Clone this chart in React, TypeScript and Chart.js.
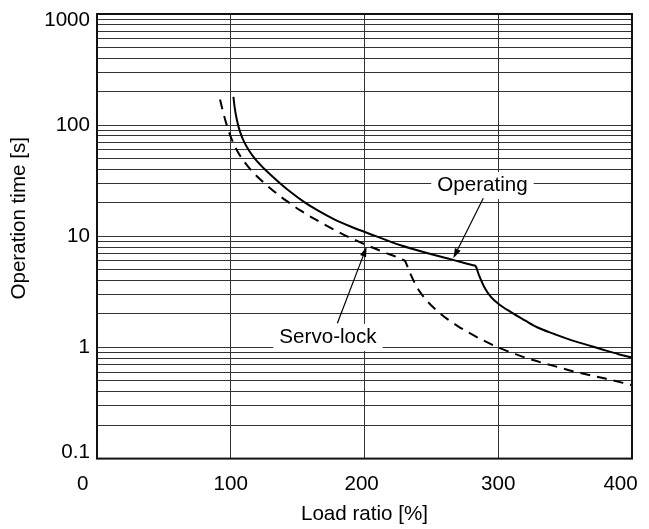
import React, { useEffect, useRef } from 'react';
import { Chart, registerables } from 'chart.js';

Chart.register(...registerables);

// ---- data ----
const X_TICKS = [0, 100, 200, 300, 400];
const X_TICK_LABELS = ['0', '100', '200', '300', '400'];
const Y_TICKS = [0.1, 1, 10, 100, 1000];
const Y_TICK_LABELS = ['0.1', '1', '10', '100', '1000'];
const Y_MINOR_STEPS = [2, 3, 4, 5, 6, 7, 8, 9];

const OPERATING_X = [102, 103, 104.5, 106, 108, 110, 114, 118, 122, 126, 131, 137, 145, 155, 165, 177, 190, 207, 227, 250, 265, 281, 283, 285.5, 289.5, 294.5, 300.5, 309.5, 320, 329, 342, 354, 367, 379, 390, 400];
const OPERATING_Y = [180, 142, 113, 95, 80.5, 70.8, 58.3, 50.1, 44.2, 39.5, 34.7, 29.9, 24.9, 20.3, 17.1, 14.3, 12.2, 10.2, 8.3, 6.9, 6.2, 5.5, 5.4, 4.5, 3.5, 2.85, 2.45, 2.08, 1.75, 1.52, 1.32, 1.17, 1.05, 0.95, 0.87, 0.81];

const SERVO_X = [92, 94, 97, 101, 105, 109, 116, 126, 136, 142, 152, 165, 177, 187, 200, 215, 228, 230.5, 233, 236, 240, 247, 254, 262, 270, 277, 288, 300, 313, 326, 340, 355, 380, 400];
const SERVO_Y = [170, 135, 100, 73.3, 58.2, 48.9, 38.4, 29.4, 23.4, 20.7, 17.1, 13.8, 11.5, 10.0, 8.5, 7.16, 6.2, 5.95, 5.0, 4.15, 3.35, 2.6, 2.15, 1.8, 1.55, 1.38, 1.17, 1.0, 0.87, 0.77, 0.69, 0.615, 0.525, 0.458];

const ANNOTATION_TEXT = ['Operating', 'Servo-lock'];
const ANNOTATION_X = [288.2, 172.7];
const ANNOTATION_Y = [28.6, 1.229];
const ARROW_FROM_X = [288.8, 179.7];
const ARROW_FROM_Y = [22.0, 1.65];
const ARROW_TO_X = [266.4, 201.6];
const ARROW_TO_Y = [6.34, 8.05];

const X_TITLE = 'Load ratio [%]';
const Y_TITLE = 'Operation time [s]';

// ---- style ----
const FONT = '"Liberation Sans", Arial, Helvetica, sans-serif';
const FONT_SIZE = 20.6;
const GRID_COLOR = '#333333';
const X_LABEL_PAD = [5, 0, 1, 0, 4];

const Y_GRID: number[] = [];
Y_TICKS.forEach((d, i) => {
  Y_GRID.push(d);
  if (i < Y_TICKS.length - 1) {
    Y_MINOR_STEPS.forEach((m) => Y_GRID.push(Number((m * d).toPrecision(3))));
  }
});

const framePlugin = {
  id: 'frame',
  afterDatasetsDraw(chart: any) {
    const { ctx, chartArea: a } = chart;
    ctx.save();
    ctx.strokeStyle = '#111';
    ctx.lineWidth = 2;
    ctx.strokeRect(a.left, a.top, a.right - a.left, a.bottom - a.top);
    ctx.restore();
  },
};

const annotationPlugin = {
  id: 'callouts',
  afterDatasetsDraw(chart: any) {
    const { ctx } = chart;
    const xs = chart.scales.x;
    const ys = chart.scales.y;
    ctx.save();
    ctx.font = `${FONT_SIZE}px ${FONT}`;
    ANNOTATION_TEXT.forEach((text, i) => {
      const cx = xs.getPixelForValue(ANNOTATION_X[i]);
      const cy = ys.getPixelForValue(ANNOTATION_Y[i]);
      const w = ctx.measureText(text).width + 12;
      const h = 27;
      ctx.fillStyle = '#fff';
      ctx.fillRect(cx - w / 2, cy - h / 2, w, h);
      ctx.fillStyle = '#000';
      ctx.textAlign = 'center';
      ctx.textBaseline = 'middle';
      ctx.fillText(text, cx, cy);

      const x1 = xs.getPixelForValue(ARROW_FROM_X[i]);
      const y1 = ys.getPixelForValue(ARROW_FROM_Y[i]);
      const x2 = xs.getPixelForValue(ARROW_TO_X[i]);
      const y2 = ys.getPixelForValue(ARROW_TO_Y[i]);
      const ang = Math.atan2(y2 - y1, x2 - x1);
      const len = 10;
      const half = 3.2;
      const bx = x2 - len * Math.cos(ang);
      const by = y2 - len * Math.sin(ang);
      ctx.strokeStyle = '#000';
      ctx.lineWidth = 1.2;
      ctx.beginPath();
      ctx.moveTo(x1, y1);
      ctx.lineTo(bx, by);
      ctx.stroke();
      ctx.beginPath();
      ctx.moveTo(x2, y2);
      ctx.lineTo(bx + half * Math.sin(ang), by - half * Math.cos(ang));
      ctx.lineTo(bx - half * Math.sin(ang), by + half * Math.cos(ang));
      ctx.closePath();
      ctx.fill();
    });
    ctx.restore();
  },
};

const yTitlePlugin = {
  id: 'yTitle',
  afterDraw(chart: any) {
    const { ctx, chartArea: a } = chart;
    ctx.save();
    ctx.translate(25, (a.top + a.bottom) / 2 - 18);
    ctx.rotate(-Math.PI / 2);
    ctx.font = `${FONT_SIZE}px ${FONT}`;
    ctx.fillStyle = '#000';
    ctx.textAlign = 'center';
    ctx.textBaseline = 'alphabetic';
    ctx.fillText(Y_TITLE, 0, 0);
    ctx.restore();
  },
};

export default function App() {
  const ref = useRef<HTMLCanvasElement>(null);

  useEffect(() => {
    const canvas = ref.current;
    if (!canvas) return;
    const chart = new Chart(canvas, {
      type: 'line',
      data: {
        datasets: [
          {
            label: 'Operating',
            data: OPERATING_X.map((x, i) => ({ x, y: OPERATING_Y[i] })),
            borderColor: '#000',
            borderWidth: 2,
            pointRadius: 0,
            fill: false,
            cubicInterpolationMode: 'monotone',
          },
          {
            label: 'Servo-lock',
            data: SERVO_X.map((x, i) => ({ x, y: SERVO_Y[i] })),
            borderColor: '#000',
            borderWidth: 2,
            borderDash: [10, 7],
            pointRadius: 0,
            fill: false,
            cubicInterpolationMode: 'monotone',
          },
        ],
      },
      options: {
        responsive: false,
        animation: false,
        events: [],
        layout: { padding: { left: 0, top: 14, right: 17, bottom: 0 } },
        plugins: { legend: { display: false }, tooltip: { enabled: false } },
        scales: {
          x: {
            type: 'linear',
            min: 0,
            max: 400,
            afterBuildTicks: (s: any) => {
              s.ticks = X_TICKS.map((v) => ({ value: v }));
            },
            afterFit: (s: any) => {
              s.height = 70.4;
              s.paddingLeft = 0;
              s.paddingRight = 0;
            },
            grid: { color: GRID_COLOR, lineWidth: 1, drawTicks: false },
            border: { display: false },
            ticks: {
              autoSkip: false,
              maxRotation: 0,
              padding: 13,
              color: '#000',
              font: { family: FONT, size: FONT_SIZE },
              callback: (value: any) => {
                const i = X_TICKS.indexOf(value);
                return i < 0 ? '' : X_TICK_LABELS[i] + ' '.repeat(X_LABEL_PAD[i]);
              },
            },
            title: {
              display: true,
              text: X_TITLE,
              color: '#000',
              font: { family: FONT, size: FONT_SIZE },
              padding: { top: 0, bottom: 2 },
            },
          },
          y: {
            type: 'logarithmic',
            min: 0.1,
            max: 1000,
            afterBuildTicks: (s: any) => {
              s.ticks = Y_GRID.map((v) => ({ value: v }));
            },
            afterFit: (s: any) => {
              s.width = 97;
              s.paddingTop = 0;
              s.paddingBottom = 0;
            },
            grid: { color: GRID_COLOR, lineWidth: 1, drawTicks: false },
            border: { display: false },
            ticks: {
              autoSkip: false,
              padding: 7,
              color: '#000',
              font: (ctx: any) => {
                const v = ctx.tick ? ctx.tick.value : null;
                const edge = v === 1000 || v === 0.1;
                return { family: FONT, size: FONT_SIZE, lineHeight: edge ? 0.6 : 1.2 };
              },
              callback: (value: any) => {
                const i = Y_TICKS.indexOf(value);
                if (i < 0) return '';
                if (i === Y_TICKS.length - 1) return ['', Y_TICK_LABELS[i]];
                if (i === 0) return [Y_TICK_LABELS[i], ''];
                return Y_TICK_LABELS[i];
              },
            },
          },
        },
      },
      plugins: [framePlugin, annotationPlugin, yTitlePlugin],
    } as any);
    return () => chart.destroy();
  }, []);

  return (
    <div style={{ position: 'fixed', left: 0, top: 0, width: 649, height: 529, background: '#fff' }}>
      <canvas ref={ref} width={649} height={529} style={{ display: 'block' }} />
    </div>
  );
}
